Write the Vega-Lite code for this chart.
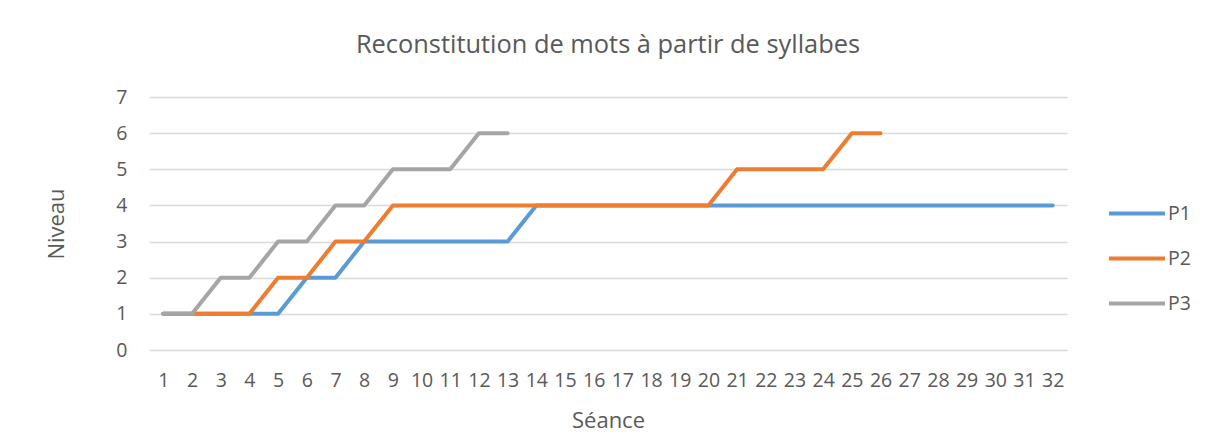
{
  "$schema": "https://vega.github.io/schema/vega-lite/v6.json",
  "autosize": {"type": "none"},
  "width": 918,
  "height": 253,
  "padding": {"left": 149, "top": 97, "right": 147, "bottom": 95},
  "background": "white",
  "config": {
    "font": "Open Sans",
    "view": {"stroke": null},
    "axis": {"labelFont": "Open Sans", "titleFont": "Open Sans"}
  },
  "title": {
    "text": "Reconstitution de mots à partir de syllabes",
    "fontSize": 25.4,
    "fontWeight": "normal",
    "color": "#595959",
    "font": "Open Sans",
    "offset": 29
  },
  "data": {
    "values": [
      {"s": 1, "v": 1, "p": "P1"}, {"s": 2, "v": 1, "p": "P1"}, {"s": 3, "v": 1, "p": "P1"}, {"s": 4, "v": 1, "p": "P1"},
      {"s": 5, "v": 1, "p": "P1"}, {"s": 6, "v": 2, "p": "P1"}, {"s": 7, "v": 2, "p": "P1"}, {"s": 8, "v": 3, "p": "P1"},
      {"s": 9, "v": 3, "p": "P1"}, {"s": 10, "v": 3, "p": "P1"}, {"s": 11, "v": 3, "p": "P1"}, {"s": 12, "v": 3, "p": "P1"},
      {"s": 13, "v": 3, "p": "P1"}, {"s": 14, "v": 4, "p": "P1"}, {"s": 15, "v": 4, "p": "P1"}, {"s": 16, "v": 4, "p": "P1"},
      {"s": 17, "v": 4, "p": "P1"}, {"s": 18, "v": 4, "p": "P1"}, {"s": 19, "v": 4, "p": "P1"}, {"s": 20, "v": 4, "p": "P1"},
      {"s": 21, "v": 4, "p": "P1"}, {"s": 22, "v": 4, "p": "P1"}, {"s": 23, "v": 4, "p": "P1"}, {"s": 24, "v": 4, "p": "P1"},
      {"s": 25, "v": 4, "p": "P1"}, {"s": 26, "v": 4, "p": "P1"}, {"s": 27, "v": 4, "p": "P1"}, {"s": 28, "v": 4, "p": "P1"},
      {"s": 29, "v": 4, "p": "P1"}, {"s": 30, "v": 4, "p": "P1"}, {"s": 31, "v": 4, "p": "P1"}, {"s": 32, "v": 4, "p": "P1"},
      {"s": 1, "v": 1, "p": "P2"}, {"s": 2, "v": 1, "p": "P2"}, {"s": 3, "v": 1, "p": "P2"}, {"s": 4, "v": 1, "p": "P2"},
      {"s": 5, "v": 2, "p": "P2"}, {"s": 6, "v": 2, "p": "P2"}, {"s": 7, "v": 3, "p": "P2"}, {"s": 8, "v": 3, "p": "P2"},
      {"s": 9, "v": 4, "p": "P2"}, {"s": 10, "v": 4, "p": "P2"}, {"s": 11, "v": 4, "p": "P2"}, {"s": 12, "v": 4, "p": "P2"},
      {"s": 13, "v": 4, "p": "P2"}, {"s": 14, "v": 4, "p": "P2"}, {"s": 15, "v": 4, "p": "P2"}, {"s": 16, "v": 4, "p": "P2"},
      {"s": 17, "v": 4, "p": "P2"}, {"s": 18, "v": 4, "p": "P2"}, {"s": 19, "v": 4, "p": "P2"}, {"s": 20, "v": 4, "p": "P2"},
      {"s": 21, "v": 5, "p": "P2"}, {"s": 22, "v": 5, "p": "P2"}, {"s": 23, "v": 5, "p": "P2"}, {"s": 24, "v": 5, "p": "P2"},
      {"s": 25, "v": 6, "p": "P2"}, {"s": 26, "v": 6, "p": "P2"},
      {"s": 1, "v": 1, "p": "P3"}, {"s": 2, "v": 1, "p": "P3"}, {"s": 3, "v": 2, "p": "P3"}, {"s": 4, "v": 2, "p": "P3"},
      {"s": 5, "v": 3, "p": "P3"}, {"s": 6, "v": 3, "p": "P3"}, {"s": 7, "v": 4, "p": "P3"}, {"s": 8, "v": 4, "p": "P3"},
      {"s": 9, "v": 5, "p": "P3"}, {"s": 10, "v": 5, "p": "P3"}, {"s": 11, "v": 5, "p": "P3"}, {"s": 12, "v": 6, "p": "P3"},
      {"s": 13, "v": 6, "p": "P3"}
    ]
  },
  "mark": {"type": "line", "strokeWidth": 4, "strokeCap": "round", "strokeJoin": "round"},
  "encoding": {
    "x": {
      "field": "s",
      "type": "ordinal",
      "scale": {"type": "point", "padding": 0.5},
      "axis": {
        "title": "Séance",
        "titleFontSize": 22,
        "titleFontWeight": "normal",
        "titleColor": "#595959",
        "titlePadding": 21,
        "labelAngle": 0,
        "labelFontSize": 19.5,
        "labelColor": "#595959",
        "labelPadding": 21,
        "ticks": false,
        "domain": false,
        "grid": false
      }
    },
    "y": {
      "field": "v",
      "type": "quantitative",
      "scale": {"domain": [0, 7], "nice": false},
      "axis": {
        "title": "Niveau",
        "titleFontSize": 22,
        "titleFontWeight": "normal",
        "titleColor": "#595959",
        "titlePadding": 47,
        "values": [0, 1, 2, 3, 4, 5, 6, 7],
        "labelFontSize": 19.5,
        "labelColor": "#595959",
        "labelPadding": 22,
        "ticks": false,
        "domain": false,
        "grid": true,
        "gridColor": "#d9d9d9",
        "gridWidth": 1.5
      }
    },
    "color": {
      "field": "p",
      "type": "nominal",
      "scale": {"domain": ["P1", "P2", "P3"], "range": ["#5B9BD5", "#ED7D31", "#A5A5A5"]},
      "legend": {
        "title": null,
        "orient": "none",
        "legendX": 958,
        "legendY": 94,
        "symbolType": "stroke",
        "symbolSize": 3136,
        "symbolStrokeWidth": 4,
        "clipHeight": 45,
        "rowPadding": 0,
        "labelFontSize": 19.5,
        "labelColor": "#595959",
        "labelFont": "Open Sans",
        "labelOffset": 1
      }
    }
  }
}
